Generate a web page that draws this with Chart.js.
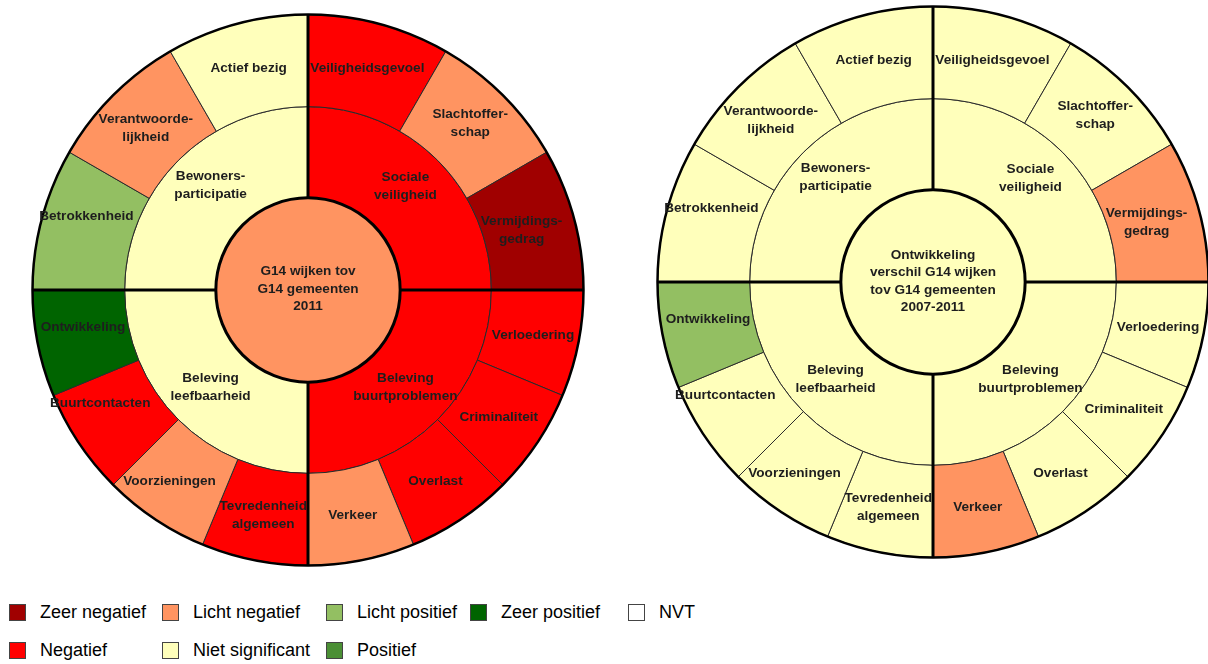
<!DOCTYPE html>
<html>
<head>
<meta charset="utf-8">
<script src="https://cdn.jsdelivr.net/npm/chart.js@4.4.1/dist/chart.umd.min.js"></script>
<style>
  body { margin:0; background:#fff; width:1208px; height:664px; position:relative; overflow:hidden; font-family:"Liberation Sans", Arial, sans-serif; }
  canvas { position:absolute; }
  #left { left:30px; top:12px; }
  #right { left:655px; top:4px; }
  .legend { position:absolute; left:9px; top:603px; display:grid; grid-template-columns:153px 164px 144px 158px auto; row-gap:20px; font-size:18px; color:#000; }
  .legend span.item { display:flex; align-items:center; height:18px; }
  .legend i { display:inline-block; width:15px; height:15px; border:1px solid #444; margin-right:14px; }
</style>
</head>
<body>
<canvas id="left" width="556" height="556"></canvas>
<canvas id="right" width="556" height="556"></canvas>
<div class="legend" id="legend"></div>
<script>
// ---- data ----
const outerLabels = ['Veiligheidsgevoel', 'Slachtoffer-\nschap', 'Vermijdings-\ngedrag', 'Verloedering', 'Criminaliteit', 'Overlast', 'Verkeer',
  'Tevredenheid\nalgemeen', 'Voorzieningen', 'Buurtcontacten', 'Ontwikkeling', 'Betrokkenheid', 'Verantwoorde-\nlijkheid', 'Actief bezig'];
const outerShares = [4, 4, 4, 3, 3, 3, 3, 3, 3, 3, 3, 4, 4, 4];   // share of the quadrant (12 per quadrant)
const innerLabels = ['Sociale\nveiligheid', 'Beleving\nbuurtproblemen', 'Beleving\nleefbaarheid', 'Bewoners-\nparticipatie'];
const innerShares = [12, 12, 12, 12];

const leftTitle = 'G14 wijken tov\nG14 gemeenten\n2011';
const leftCenter = 'Licht negatief';
const leftInner = ['Negatief', 'Negatief', 'Niet significant', 'Niet significant'];
const leftOuter = ['Negatief', 'Licht negatief', 'Zeer negatief', 'Negatief', 'Negatief', 'Negatief', 'Licht negatief',
  'Negatief', 'Licht negatief', 'Negatief', 'Zeer positief', 'Licht positief', 'Licht negatief', 'Niet significant'];

const rightTitle = 'Ontwikkeling\nverschil G14 wijken\ntov G14 gemeenten\n2007-2011';
const rightCenter = 'Niet significant';
const rightInner = ['Niet significant', 'Niet significant', 'Niet significant', 'Niet significant'];
const rightOuter = ['Niet significant', 'Niet significant', 'Licht negatief', 'Niet significant', 'Niet significant', 'Niet significant', 'Licht negatief',
  'Niet significant', 'Niet significant', 'Niet significant', 'Licht positief', 'Niet significant', 'Niet significant', 'Niet significant'];

const legendOrder = ['Zeer negatief', 'Licht negatief', 'Licht positief', 'Zeer positief', 'NVT', 'Negatief', 'Niet significant', 'Positief'];

// ---- styles ----
const statusColors = {
  'Zeer negatief': '#A00000',
  'Negatief': '#FF0000',
  'Licht negatief': '#FF9461',
  'Niet significant': '#FFFFBB',
  'Licht positief': '#93BF62',
  'Positief': '#4B8F35',
  'Zeer positief': '#006400',
  'NVT': '#FFFFFF'
};
// small label shifts so text sits as in the original
const nudge = {
  'Betrokkenheid': [0, -14], 'Ontwikkeling': [0, -8], 'Buurtcontacten': [-17, -14], 'Voorzieningen': [-11, 0],
  'Slachtoffer-\nschap': [0, -5], 'Vermijdings-\ngedrag': [-8, 0],
  'Sociale\nveiligheid': [0, -6], 'Bewoners-\nparticipatie': [0, -7]
};

const ringPlugin = {
  id: 'ringDecor',
  afterDatasetsDraw(chart, args, opts) {
    const ctx = chart.ctx;
    const outer = chart.getDatasetMeta(0).data;
    const inner = chart.getDatasetMeta(1).data;
    const centre = chart.getDatasetMeta(2).data[0];
    const c = centre.getProps(['x', 'y', 'outerRadius'], true);
    const R = outer[0].getProps(['outerRadius'], true).outerRadius;

    ctx.save();
    ctx.strokeStyle = '#000';
    // quadrant separators
    ctx.lineWidth = 3;
    inner.forEach(a => {
      const p = a.getProps(['startAngle'], true);
      ctx.beginPath();
      ctx.moveTo(c.x + Math.cos(p.startAngle) * c.outerRadius, c.y + Math.sin(p.startAngle) * c.outerRadius);
      ctx.lineTo(c.x + Math.cos(p.startAngle) * R, c.y + Math.sin(p.startAngle) * R);
      ctx.stroke();
    });
    // outer edge and centre circle
    ctx.lineWidth = 2.5;
    ctx.beginPath(); ctx.arc(c.x, c.y, R, 0, Math.PI * 2); ctx.stroke();
    ctx.lineWidth = 3;
    ctx.beginPath(); ctx.arc(c.x, c.y, c.outerRadius, 0, Math.PI * 2); ctx.stroke();

    // labels
    ctx.fillStyle = '#1e1e1e';
    ctx.font = 'bold 13.6px "Liberation Sans", Arial, sans-serif';
    ctx.textAlign = 'center';
    ctx.textBaseline = 'middle';
    const drawText = (txt, x, y, lh) => {
      const lines = txt.split('\n');
      lines.forEach((l, i) => ctx.fillText(l, x, y + (i - (lines.length - 1) / 2) * lh));
    };
    [[outer, outerLabels], [inner, innerLabels]].forEach(([arcs, labels]) => {
      arcs.forEach((a, i) => {
        const pt = a.getCenterPoint(true);
        const n = nudge[labels[i]] || [0, 0];
        drawText(labels[i], pt.x + n[0], pt.y + n[1], 18);
      });
    });
    drawText(opts.title, c.x, c.y - 1, 17.5);
    ctx.restore();
  }
};

function makeChart(id, outerStatus, innerStatus, centerStatus, title) {
  return new Chart(document.getElementById(id), {
    type: 'doughnut',
    data: {
      datasets: [
        { data: outerShares, backgroundColor: outerStatus.map(s => statusColors[s]), borderColor: '#2a2a2a', borderWidth: 1, weight: 92 },
        { data: innerShares, backgroundColor: innerStatus.map(s => statusColors[s]), borderColor: '#2a2a2a', borderWidth: 1, weight: 91 },
        { data: [1], backgroundColor: [statusColors[centerStatus]], borderWidth: 0, weight: 92 }
      ]
    },
    options: {
      responsive: false,
      animation: false,
      cutout: 0,
      layout: { padding: 2 },
      plugins: { legend: { display: false }, tooltip: { enabled: false }, ringDecor: { title: title } },
      events: []
    },
    plugins: [ringPlugin]
  });
}

makeChart('left', leftOuter, leftInner, leftCenter, leftTitle);
makeChart('right', rightOuter, rightInner, rightCenter, rightTitle);

// legend
const lg = document.getElementById('legend');
legendOrder.forEach(name => {
  const el = document.createElement('span');
  el.className = 'item';
  el.innerHTML = '<i style="background:' + statusColors[name] + '"></i>' + name;
  lg.appendChild(el);
});
</script>
</body>
</html>
